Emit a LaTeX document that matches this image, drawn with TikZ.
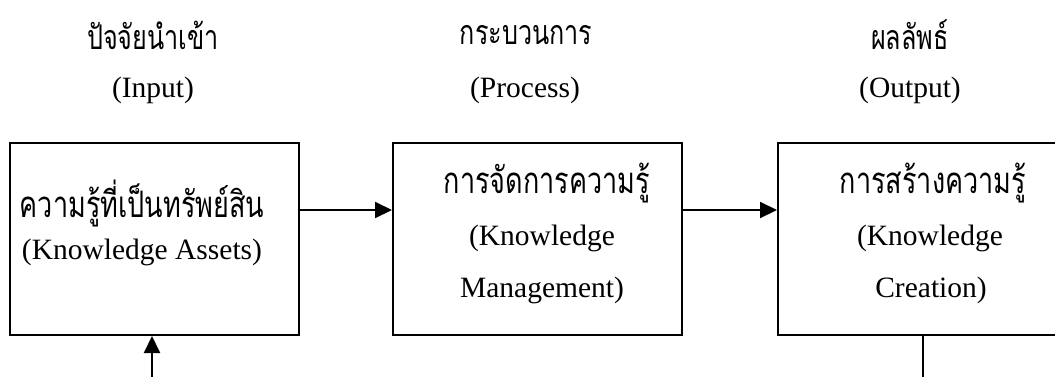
\documentclass[tikz,border=0pt]{standalone}
\usepackage{fontspec}
\setmainfont{Liberation Serif}
\newfontfamily\thai[Script=Thai,FakeStretch=0.74]{Loma}
\usetikzlibrary{arrows.meta}
\begin{document}
\begin{tikzpicture}[x=1pt,y=-1pt,
  box/.style={draw, line width=2pt, minimum width=289pt, minimum height=192pt, inner sep=0pt},
  arr/.style={line width=2pt, -{Triangle[length=17pt,width=16pt]}},
  plain/.style={line width=2pt},
  lat/.style={inner sep=0pt, font=\fontsize{29.5}{34}\selectfont},
  th/.style={inner sep=0pt, font=\thai\fontsize{36.5}{40}\selectfont},
  thh/.style={inner sep=0pt, font=\thai\fontsize{34}{40}\selectfont}]
\useasboundingbox (0,0) rectangle (1055,376);
% headings
\node[thh] (h1) at (153,35) {ปัจจัยนำเข้า};
\node[lat] (e1) at (153,90) {(Input)};
\node[thh] (h2) at (526,35) {กระบวนการ};
\node[lat] (e2) at (525,90) {(Process)};
\node[thh] (h3) at (910,35) {ผลลัพธ์};
\node[lat] (e3) at (910,90) {(Output)};
% boxes
\node[box] (b1) at (154,239) {};
\node[box] (b2) at (537.5,239) {};
\node[box] (b3) at (922.5,239) {};
% box texts
\node[th]  (t1a) at (142,203) {ความรู้ที่เป็นทรัพย์สิน};
\node[lat] (t1b) at (142,252) {(Knowledge Assets)};
\node[th]  (t2a) at (547,183) {การจัดการความรู้};
\node[lat] (t2b) at (542,238) {(Knowledge};
\node[lat] (t2c) at (542,290) {Management)};
\node[th]  (t3a) at (933,183) {การสร้างความรู้};
\node[lat] (t3b) at (930,238) {(Knowledge};
\node[lat] (t3c) at (931,290) {Creation)};
% connectors
\draw[arr] ([yshift=29pt]b1.east) -- ([yshift=29pt]b2.west);
\draw[arr] ([yshift=29pt]b2.east) -- ([yshift=29pt]b3.west);
\coordinate (f1) at (152,400);
\coordinate (f3) at (922.5,400);
\draw[arr] (f1) -- (f1 |- b1.south);
\draw[plain] (b3.south) -- (f3);
\end{tikzpicture}
\end{document}
